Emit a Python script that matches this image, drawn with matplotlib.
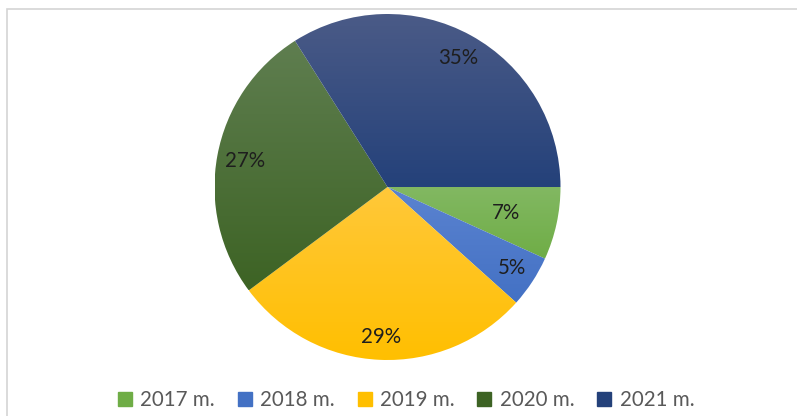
import numpy as np
import matplotlib
matplotlib.use('Agg')
import matplotlib.pyplot as plt
from matplotlib.colors import LinearSegmentedColormap
from matplotlib.lines import Line2D
from matplotlib.patches import Rectangle

years = ['2017 m.', '2018 m.', '2019 m.', '2020 m.', '2021 m.']
values = [7, 5, 29, 27, 35]
top_colors = ['#82b862', '#5b83d0', '#ffc83a', '#5f7e50', '#4b5b87']
bottom_colors = ['#6fad46', '#4371c4', '#ffbf00', '#3d6324', '#24417a']
label_r = [0.70, 0.86, 0.87, 0.84, 0.85]

plt.rcParams['font.family'] = ['Lato', 'DejaVu Sans']

fig = plt.figure(figsize=(7.97, 4.16), dpi=100)
fig.patch.set_facecolor('white')

# frame of the embedded chart
fig.patches.append(Rectangle((6.5 / 797, -0.1), 1.2, 1 - 8.5 / 416 + 0.1,
                             transform=fig.transFigure, fill=False,
                             edgecolor='#d4d4d4', linewidth=1.2))

cx, cy, r = 387.5, 187, 173
ax = fig.add_axes([(cx - r) / 797, 1 - (cy + r) / 416, 2 * r / 797, 2 * r / 416])
wedges, _ = ax.pie(values, startangle=0, counterclock=False, radius=1,
                   wedgeprops=dict(linewidth=0))
ax.set_aspect('auto')
ax.axis('off')

grad = np.linspace(1, 0, 256).reshape(-1, 1)
for i, w in enumerate(wedges):
    w.set_facecolor('none')
    cmap = LinearSegmentedColormap.from_list('g%d' % i, [bottom_colors[i], top_colors[i]])
    verts = w.get_path().vertices
    y0, y1 = verts[:, 1].min(), verts[:, 1].max()
    im = ax.imshow(grad, cmap=cmap, extent=[-1, 1, y0, y1], aspect='auto',
                   interpolation='bilinear', zorder=1, vmin=0, vmax=1)
    im.set_clip_path(w)
    ang = np.deg2rad((w.theta1 + w.theta2) / 2)
    ax.text(label_r[i] * np.cos(ang), label_r[i] * np.sin(ang), '%d%%' % values[i],
            ha='center', va='center', fontsize=14.8, color='#1e1e1e', zorder=3)
ax.set_xlim(-1, 1)
ax.set_ylim(-1, 1)

handles = [Line2D([], [], marker='s', linestyle='none', markersize=10,
                  markerfacecolor=c, markeredgecolor=c) for c in bottom_colors]
fig.legend(handles, years, loc='center', bbox_to_anchor=(405 / 797, 1 - 400 / 416),
           ncol=5, frameon=False, fontsize=14.8, labelcolor='#595959',
           handletextpad=0.3, columnspacing=1.0, handlelength=0.9)

fig.savefig('out.png', dpi=100)
